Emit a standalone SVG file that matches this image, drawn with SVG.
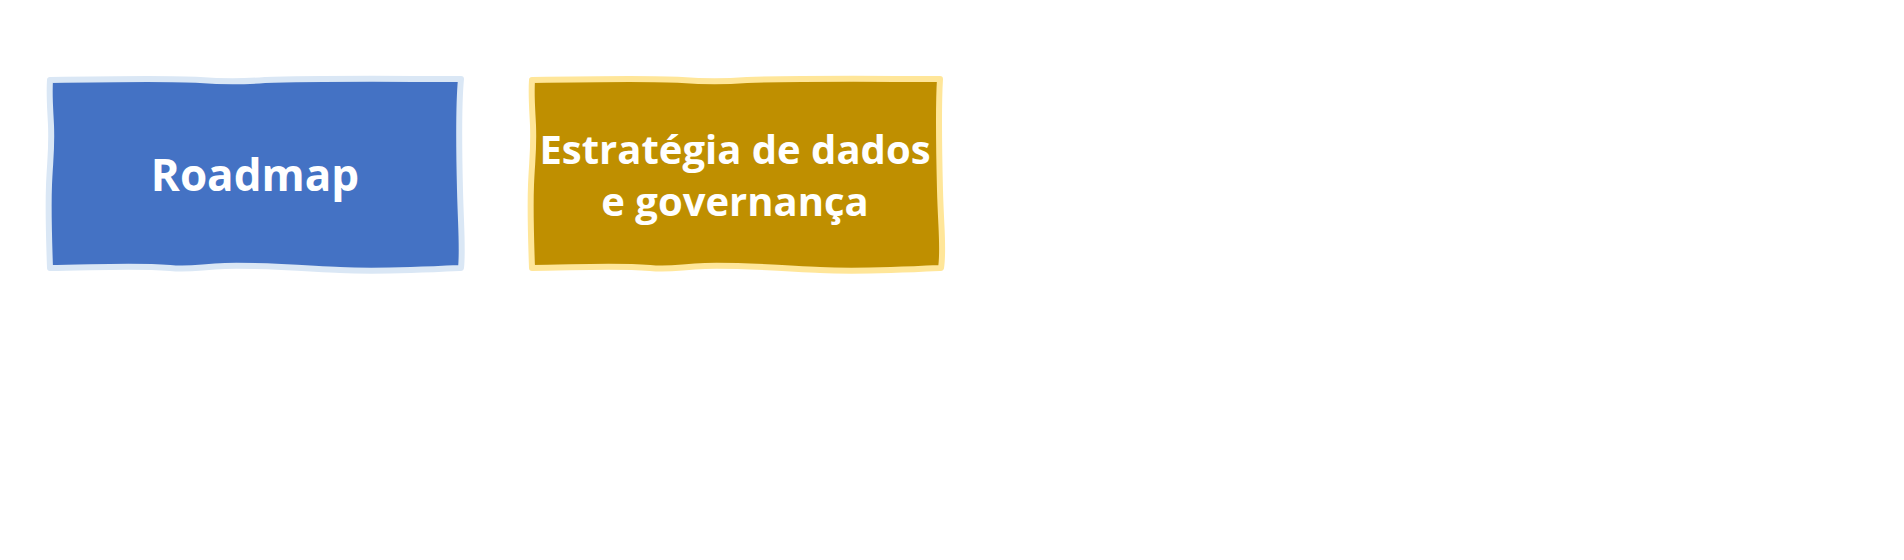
<svg xmlns="http://www.w3.org/2000/svg" width="1904" height="560" viewBox="0 0 1904 560">
<style>
.lbl{font-family:"Open Sans","Noto Sans","Liberation Sans",sans-serif;font-weight:700;fill:#ffffff;text-anchor:middle}
.blue{fill:#4472c4;stroke:#dae7f5;stroke-width:6;stroke-linejoin:round}
.gold{fill:#bf8f00;stroke:#ffe699;stroke-width:6;stroke-linejoin:round}
</style>
<rect width="1904" height="560" fill="#ffffff"/>
<g id="node-roadmap">
<path class="blue" d="M50,80 C110,79 170,78 200,80 C225,82 240,82 265,80 C320,78 400,79 461,79 C458,110 459,150 460,190 C461,230 463,250 461,268 C420,270 380,272 340,270 C300,268 260,265 225,266 C200,267 190,270 170,268 C130,265 90,268 50,268 C49,240 48,210 49,185 C50,160 52,150 51,125 C50,105 49,95 50,80 Z"/>
<text class="lbl" x="255" y="191" font-size="44">Roadmap</text>
</g>
<g id="node-estrategia">
<path class="gold" d="M532,80 C592,79 652,78 682,80 C707,82 722,82 747,80 C802,78 882,79 940,79 C938,110 939,150 940,190 C941,230 944,250 941,268 C900,270 860,272 820,270 C780,268 740,265 705,266 C680,267 670,270 650,268 C610,265 570,268 532,268 C531,240 530,210 531,185 C532,160 534,150 533,125 C532,105 531,95 532,80 Z"/>
<text class="lbl" x="735" y="164" font-size="40">Estratégia de dados</text>
<text class="lbl" x="735" y="216" font-size="40">e governança</text>
</g>
<g id="connectors"></g>
</svg>
